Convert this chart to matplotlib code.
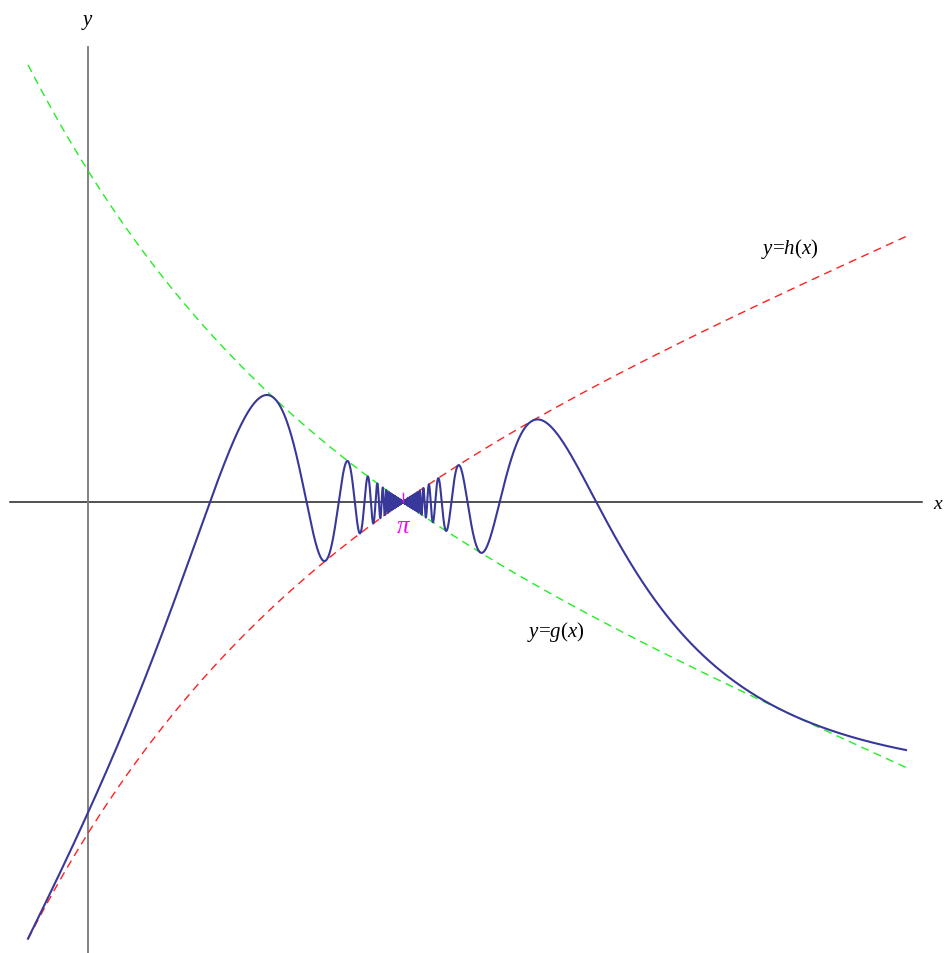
import numpy as np
import matplotlib
matplotlib.use("Agg")
import matplotlib.pyplot as plt

# squeeze picture: f is trapped between g and h = -g, all meeting at x = pi
# envelope g(x) = -(x - pi) * (slope_far + slope_bump * exp(-(x - pi) / bump_len))
slope_far = 0.48
slope_bump = 0.22
bump_len = 3.29
# f(x) = g(x) * sin(freq / (x - pi))
freq = 6.05

x_start, x_end = -0.598, 8.155
x_view = (-0.877, 8.554)
y_view = (-4.497, 5.015)

labels_h = ("$\\it{y}$=$\\it{h}$($\\it{x}$)", 7.0, 2.53)
labels_g = ("$\\it{y}$=$\\it{g}$($\\it{x}$)", 4.66, -1.29)


def g(x):
    s = x - np.pi
    return -s * (slope_far + slope_bump * np.exp(-s / bump_len))


def h(x):
    return -g(x)


def f(x):
    s = x - np.pi
    with np.errstate(divide="ignore", invalid="ignore"):
        out = g(x) * np.sin(freq / s)
    return np.where(s == 0, 0.0, out)


plt.rcParams["font.family"] = ["Liberation Serif", "DejaVu Serif"]
plt.rcParams["mathtext.fontset"] = "custom"
plt.rcParams["mathtext.rm"] = "Liberation Serif"
plt.rcParams["mathtext.it"] = "Liberation Serif:italic"

fig = plt.figure(figsize=(9.46, 9.54), dpi=100)
ax = fig.add_axes([0, 0, 1, 1])
ax.set_xlim(*x_view)
ax.set_ylim(*y_view)
ax.axis("off")

# axes
ax.plot([-0.778, 8.315], [0, 0], color="#222222", lw=1.1, zorder=1)
ax.plot([0, 0], [y_view[0], 4.536], color="#777777", lw=1.3, zorder=1)
ax.text(0, 4.79, "$\\it{y}$", fontsize=15, ha="center", va="center")
ax.text(8.42, -0.02, "$\\it{x}$", fontsize=14, ha="left", va="center")

# envelopes
xs = np.linspace(x_start, x_end, 2000)
ax.plot(xs, g(xs), color="#22ee22", lw=1.0, dashes=(5.8, 4.0), zorder=2)
ax.plot(xs, h(xs), color="#ff2020", lw=1.0, dashes=(5.8, 4.0), zorder=2)

# squeezed function, sampled densely near pi
near = np.geomspace(1e-4, 1.2, 60000)
xf = np.sort(np.concatenate([
    np.linspace(x_start, x_end, 20000),
    np.pi - near,
    np.pi + near,
]))
ax.plot(xf, f(xf), color="#38389a", lw=1.5, zorder=3)

# pi marker
ax.plot([np.pi, np.pi], [0, 0.09], color="#ff00ff", lw=1.0, zorder=4)
ax.text(np.pi, -0.24, "$\\it{\\pi}$", color="#ff00ff", fontsize=18,
        ha="center", va="center")

ax.text(labels_h[1], labels_h[2], labels_h[0], fontsize=15,
        ha="center", va="center")
ax.text(labels_g[1], labels_g[2], labels_g[0], fontsize=15,
        ha="center", va="center")

fig.savefig("out.png", dpi=100)
